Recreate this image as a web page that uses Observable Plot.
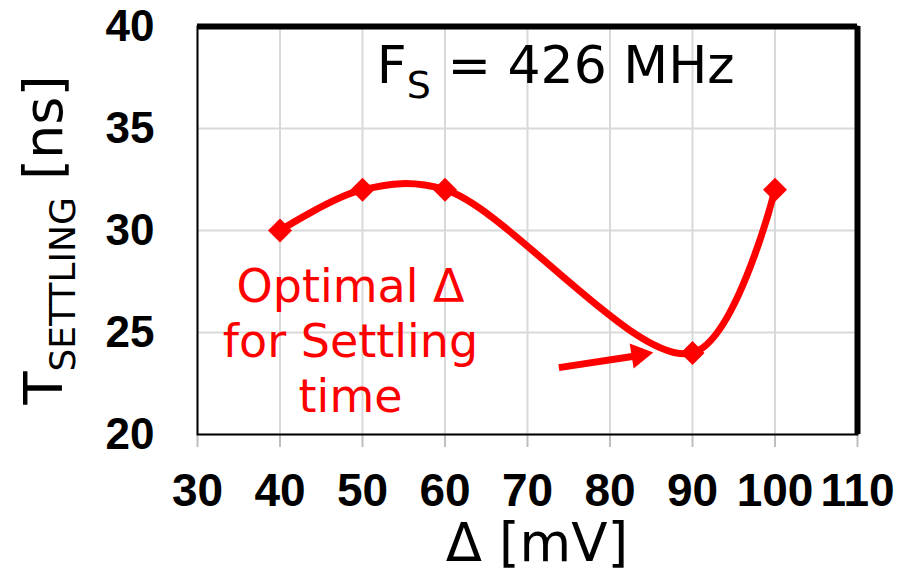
<!DOCTYPE html>
<html><head><meta charset="utf-8">
<script src="https://cdn.jsdelivr.net/npm/d3@7"></script>
<script src="https://cdn.jsdelivr.net/npm/@observablehq/plot@0.6"></script>
<style>body{margin:0;background:#fff}</style>
</head><body><div id="chart"></div>
<script>
// ---- data ----
const deltaMV = [40, 50, 60, 90, 100];
const tSettlingNs = [30, 32, 32, 24, 32];
const xTicks = [30, 40, 50, 60, 70, 80, 90, 100, 110];
const yTicks = [20, 25, 30, 35, 40];
const arrowTail = [73.8, 23.28];
const arrowHeadBase = [82.7, 23.82];
const arrowHeadCenter = [83.5, 23.91];
const noteText = "Optimal Δ\nfor Settling\ntime";
const notePos = [48.55, 24.65];
const fsMain = "F", fsSub = "S", fsRest = " = 426 MHz";
const fsPos = [51.8, 37.2];
const xLabel = "Δ [mV]";
const yMain = "T", ySub = "SETTLING", yRest = " [ns]";

const pts = deltaMV.map((d, i) => ({x: d, y: tSettlingNs[i]}));
const RED = "#ff0000";
const TICKFONT = "'Liberation Sans', Arial, sans-serif";
const FONT = "'DejaVu Sans', Verdana, sans-serif";

const plot = Plot.plot({
  width: 908, height: 576,
  marginLeft: 197, marginRight: 51, marginTop: 26, marginBottom: 142,
  style: {fontFamily: FONT, background: "white", overflow: "visible"},
  x: {domain: [30, 110]},
  y: {domain: [20, 40]},
  marks: [
    Plot.gridX(xTicks, {stroke: "#d9d9d9", strokeOpacity: 1, strokeWidth: 2}),
    Plot.gridY(yTicks, {stroke: "#d9d9d9", strokeOpacity: 1, strokeWidth: 2}),
    Plot.axisX(xTicks, {tickSize: 13, stroke: "#bfbfbf", strokeWidth: 2, tickPadding: 26,
      fontSize: 46, fontWeight: "bold", fontFamily: TICKFONT, fill: "black", label: null}),
    Plot.axisY(yTicks, {tickSize: 0, tickPadding: 43,
      fontSize: 44, fontWeight: "bold", fontFamily: TICKFONT, fill: "black", label: null}),
    Plot.frame({stroke: "black", strokeWidth: 2}),
    Plot.ruleY([40], {stroke: "black", strokeWidth: 6}),
    Plot.ruleX([110], {stroke: "black", strokeWidth: 6}),
    Plot.line(pts, {x: "x", y: "y", curve: "catmull-rom", stroke: RED, strokeWidth: 7}),
    Plot.dot(pts, {x: "x", y: "y", symbol: "diamond2", r: 10.8, fill: RED, stroke: "none"}),
    Plot.link([0], {x1: () => arrowTail[0], y1: () => arrowTail[1],
      x2: () => arrowHeadBase[0], y2: () => arrowHeadBase[1], stroke: RED, strokeWidth: 7}),
    Plot.dot([0], {x: () => arrowHeadCenter[0], y: () => arrowHeadCenter[1],
      symbol: "triangle", r: 9.4, fill: RED, stroke: "none", rotate: 81}),
    Plot.text([noteText], {x: () => notePos[0], y: () => notePos[1], text: d => d,
      fill: RED, fontSize: 46, lineHeight: 1.2, textAnchor: "middle", fontFamily: FONT})
  ]
});

const svg = d3.select(plot);
const sxo = plot.scale("x"), syo = plot.scale("y");
const X = d3.scaleLinear(sxo.domain, sxo.range);
const Y = d3.scaleLinear(syo.domain, syo.range);

// F_S annotation
const fs = svg.append("text")
  .attr("x", X(fsPos[0])).attr("y", Y(fsPos[1]))
  .attr("text-anchor", "start")
  .attr("font-family", FONT).attr("font-size", 52).attr("fill", "black");
fs.append("tspan").text(fsMain);
fs.append("tspan").attr("font-size", 38).attr("dy", 15).text(fsSub);
fs.append("tspan").attr("dy", -15).text(fsRest);

// x label
svg.append("text")
  .attr("x", 537).attr("y", 561).attr("text-anchor", "middle")
  .attr("font-family", FONT).attr("font-size", 53).attr("fill", "black")
  .text(xLabel);

// y label
const yl = svg.append("text")
  .attr("transform", "translate(62,240) rotate(-90)").attr("text-anchor", "middle")
  .attr("font-family", FONT).attr("font-size", 54).attr("fill", "black");
yl.append("tspan").text(yMain);
yl.append("tspan").attr("font-size", 36).attr("dy", 13).text(ySub);
yl.append("tspan").attr("dy", -13).text(yRest);

document.getElementById("chart").appendChild(plot);
</script>
</body></html>
